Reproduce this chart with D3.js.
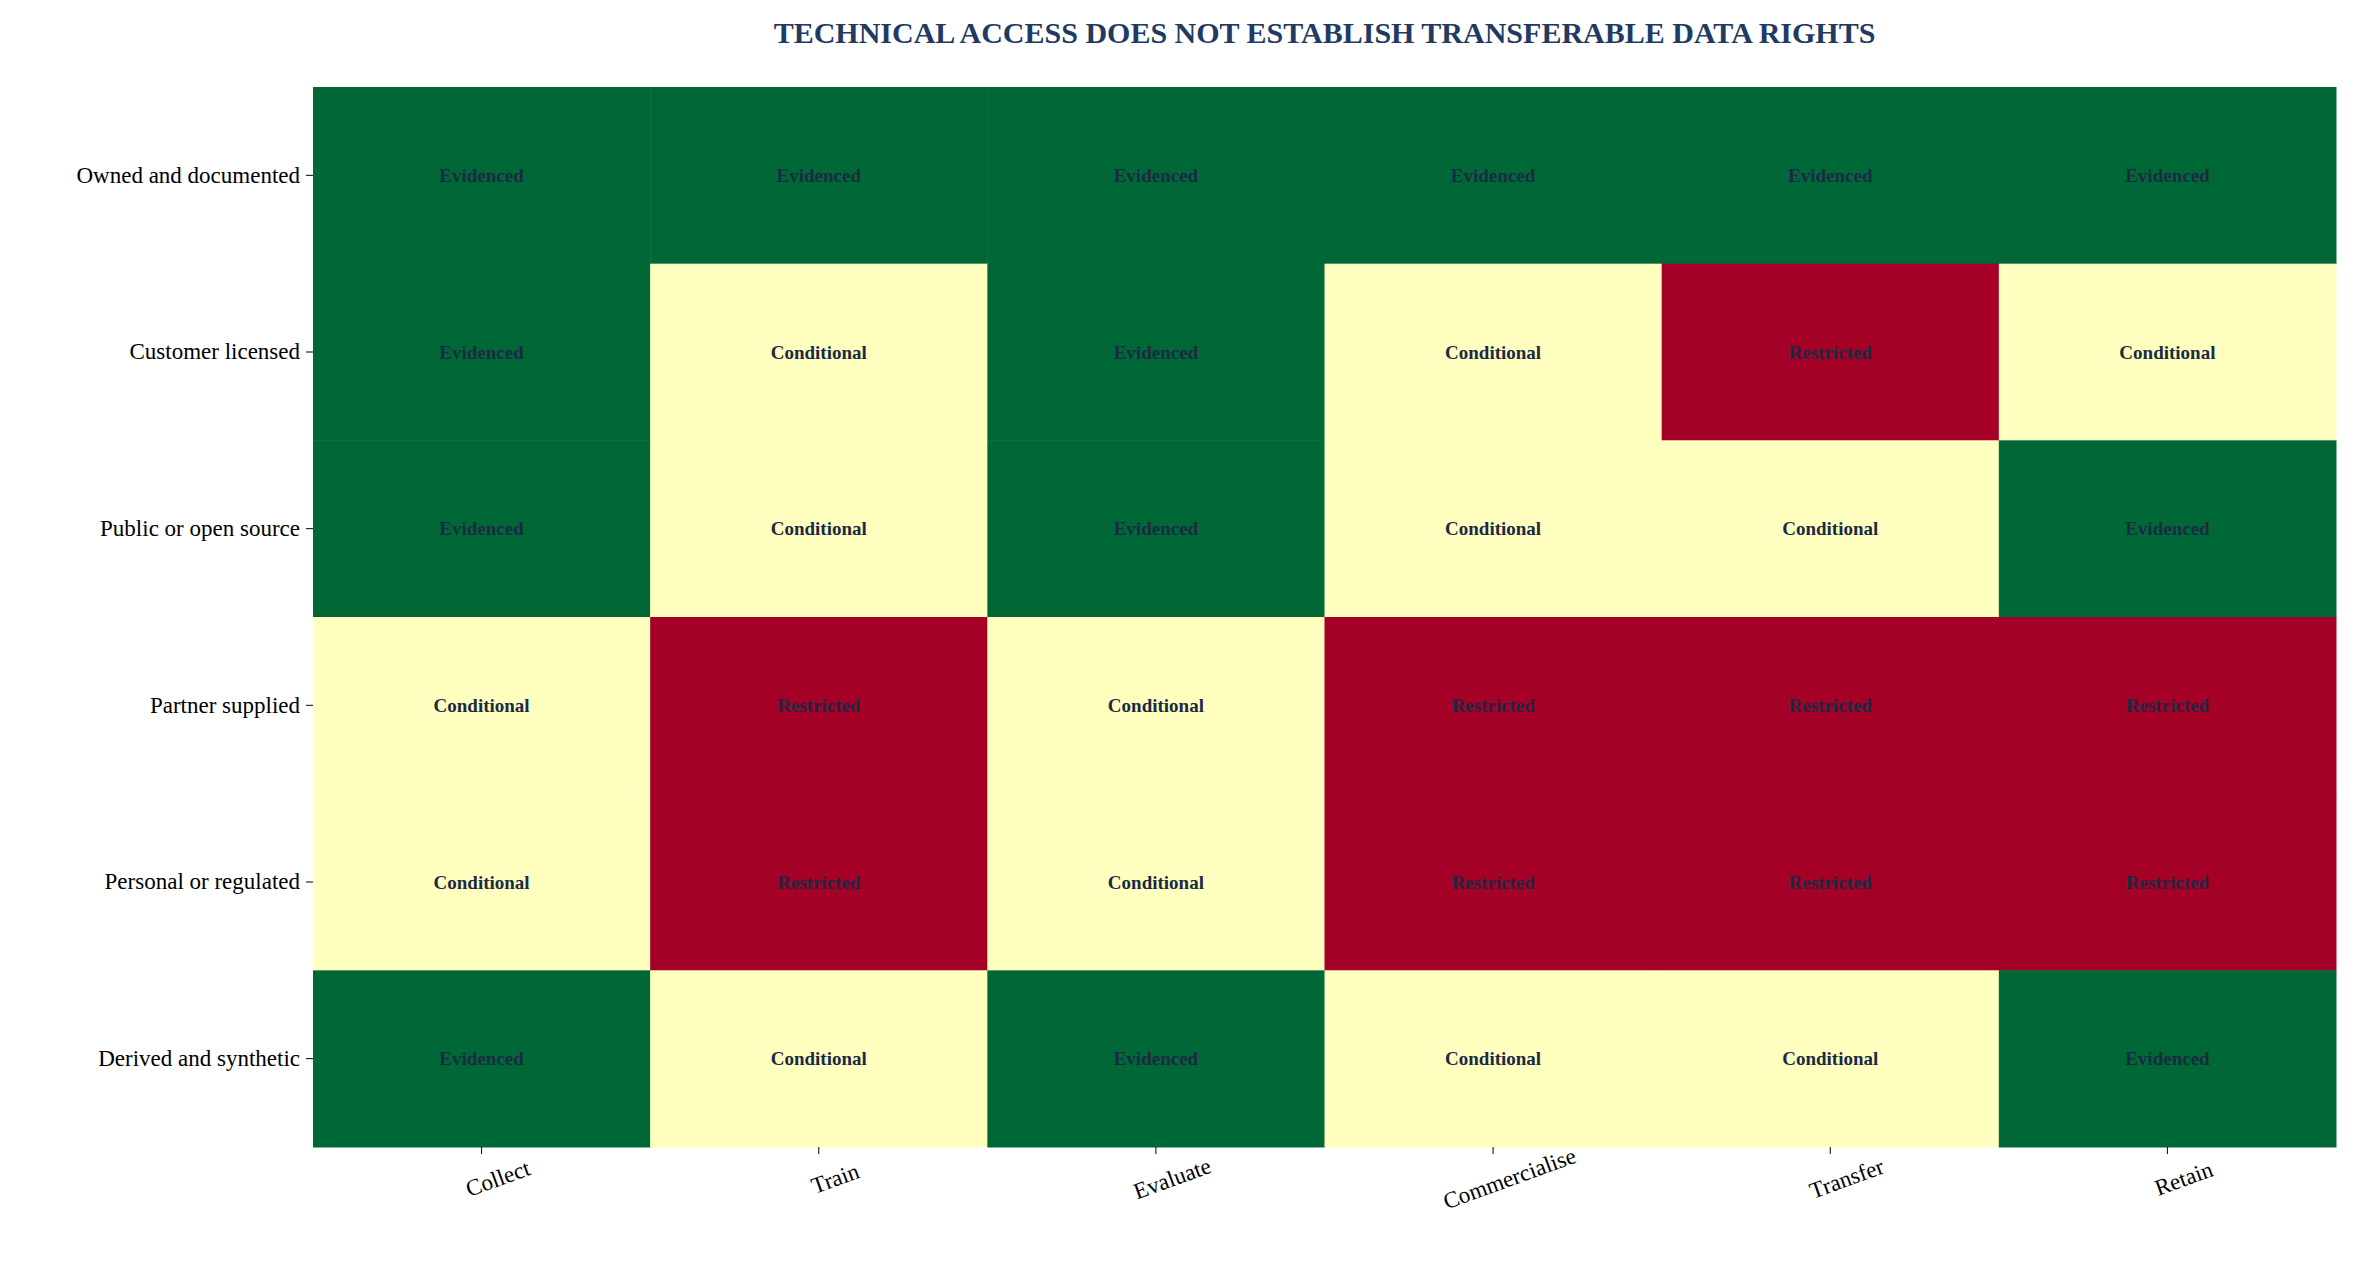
<!DOCTYPE html><html><head><meta charset="utf-8"><script src="https://cdn.jsdelivr.net/npm/d3@7"></script>
<style>body{margin:0;background:#fff}svg{font-family:"Liberation Serif","Times New Roman",serif}</style></head><body>
<script>
const rows=["Owned and documented","Customer licensed","Public or open source","Partner supplied","Personal or regulated","Derived and synthetic"];
const cols=["Collect","Train","Evaluate","Commercialise","Transfer","Retain"];
const statusGrid=[
["Evidenced","Evidenced","Evidenced","Evidenced","Evidenced","Evidenced"],
["Evidenced","Conditional","Evidenced","Conditional","Restricted","Conditional"],
["Evidenced","Conditional","Evidenced","Conditional","Conditional","Evidenced"],
["Conditional","Restricted","Conditional","Restricted","Restricted","Restricted"],
["Conditional","Restricted","Conditional","Restricted","Restricted","Restricted"],
["Evidenced","Conditional","Evidenced","Conditional","Conditional","Evidenced"]];
const statuses=["Evidenced","Conditional","Restricted"];
const palette=["#006837","#ffffbf","#a50026"];
const W=2357,H=1273,m={l:313,r:21,t:87,b:126};
const svg=d3.select("body").append("svg").attr("width",W).attr("height",H);
const x=d3.scaleBand().domain(cols).range([m.l,W-m.r]);
const y=d3.scaleBand().domain(rows).range([m.t,H-m.b]);
const c=d3.scaleOrdinal().domain(statuses).range(palette);
const cells=[];statusGrid.forEach((r,i)=>r.forEach((s,j)=>cells.push({r:rows[i],c:cols[j],s})));
svg.selectAll("rect.cell").data(cells).join("rect").attr("x",d=>x(d.c)).attr("y",d=>y(d.r)).attr("width",x.bandwidth()+0.5).attr("height",y.bandwidth()+0.5).attr("fill",d=>c(d.s));
svg.selectAll("text.cell").data(cells).join("text").attr("x",d=>x(d.c)+x.bandwidth()/2).attr("y",d=>y(d.r)+y.bandwidth()/2).attr("dy","0.35em").attr("text-anchor","middle").attr("font-size",19).attr("font-weight","bold").attr("fill","#1b2a44").text(d=>d.s);
const gx=svg.append("g").attr("transform",`translate(0,${H-m.b})`).call(d3.axisBottom(x).tickSize(7).tickPadding(6));
gx.select(".domain").remove();
gx.selectAll("text").attr("font-size",23).attr("font-family","Liberation Serif").attr("fill","#000").attr("text-anchor","end").attr("transform","rotate(-20)").attr("dx","0.2em").attr("dy","1.3em").style("text-anchor","middle");
const gy=svg.append("g").attr("transform",`translate(${m.l},0)`).call(d3.axisLeft(y).tickSize(7).tickPadding(6));
gy.select(".domain").remove();
gy.selectAll("text").attr("font-size",23).attr("font-family","Liberation Serif").attr("fill","#000");
svg.append("text").attr("x",(m.l+W-m.r)/2).attr("y",43).attr("text-anchor","middle").attr("font-size",30).attr("font-weight","bold").attr("fill","#1f3b63").text("TECHNICAL ACCESS DOES NOT ESTABLISH TRANSFERABLE DATA RIGHTS");
</script></body></html>
